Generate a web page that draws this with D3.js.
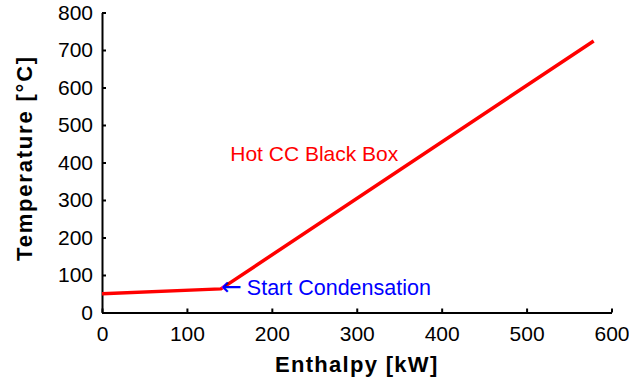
<!DOCTYPE html>
<html>
<head>
<meta charset="utf-8">
<script src="https://cdn.jsdelivr.net/npm/d3@7"></script>
<style>
  body { margin: 0; background: #fff; }
  svg { display: block; font-family: "Liberation Sans", Arial, sans-serif; }
</style>
</head>
<body>
<svg id="vis" width="629" height="381"></svg>
<script>
// hot composite curve: enthalpy [kW] vs temperature [°C]
const enthalpy = [0, 140, 579];
const temperature = [50, 63, 724];
const xTicks = [0, 100, 200, 300, 400, 500, 600];
const yTicks = [0, 100, 200, 300, 400, 500, 600, 700, 800];

const svg = d3.select('#vis');
const margin = {left: 102, right: 17.5, top: 12.5, bottom: 68.5};
const width = 629 - margin.left - margin.right;
const height = 381 - margin.top - margin.bottom;

const x = d3.scaleLinear().domain([0, 600]).range([0, width]);
const y = d3.scaleLinear().domain([0, 800]).range([height, 0]);

const g = svg.append('g').attr('transform', `translate(${margin.left},${margin.top})`);

const xAxis = g.append('g')
  .attr('transform', `translate(0,${height})`)
  .call(d3.axisBottom(x).tickValues(xTicks).tickSizeInner(-4).tickSizeOuter(0).tickPadding(14));
const yAxis = g.append('g')
  .call(d3.axisLeft(y).tickValues(yTicks).tickSizeInner(-4).tickSizeOuter(0).tickPadding(9));

[xAxis, yAxis].forEach(a => {
  a.select('.domain').attr('stroke', '#000').attr('stroke-width', 2);
  a.selectAll('.tick line').attr('stroke', '#000').attr('stroke-width', 2);
  a.selectAll('.tick text')
    .attr('fill', '#000')
    .style('font-size', '21px')
    .style('font-family', '"Liberation Sans", Arial, sans-serif');
});

const line = d3.line()
  .x((d, i) => x(enthalpy[i]))
  .y(d => y(d));

g.append('path')
  .datum(temperature)
  .attr('d', line)
  .attr('fill', 'none')
  .attr('stroke', '#ff0000')
  .attr('stroke-width', 3.5)
  .attr('stroke-linejoin', 'round');

g.append('text')
  .attr('x', x(151))
  .attr('y', y(405))
  .attr('fill', '#ff0000')
  .style('font-size', '21px')
  .text('Hot CC Black Box');

const note = g.append('text')
  .attr('x', x(140))
  .attr('y', y(47))
  .attr('fill', '#0000ff')
  .style('font-size', '21.5px');
note.append('tspan').style('font-family', '"DejaVu Sans"').style('font-size', '25px').text('\u2190');
note.append('tspan').attr('dx', 5).text('Start Condensation');

svg.append('text')
  .attr('x', margin.left + width / 2)
  .attr('y', 372)
  .attr('text-anchor', 'middle')
  .style('font-size', '22px')
  .style('font-weight', 'bold')
  .style('letter-spacing', '1.3px')
  .text('Enthalpy [kW]');

svg.append('text')
  .attr('transform', 'translate(32,158) rotate(-90)')
  .attr('text-anchor', 'middle')
  .style('font-size', '22px')
  .style('font-weight', 'bold')
  .style('letter-spacing', '1.8px')
  .text('Temperature [°C]');
</script>
</body>
</html>
